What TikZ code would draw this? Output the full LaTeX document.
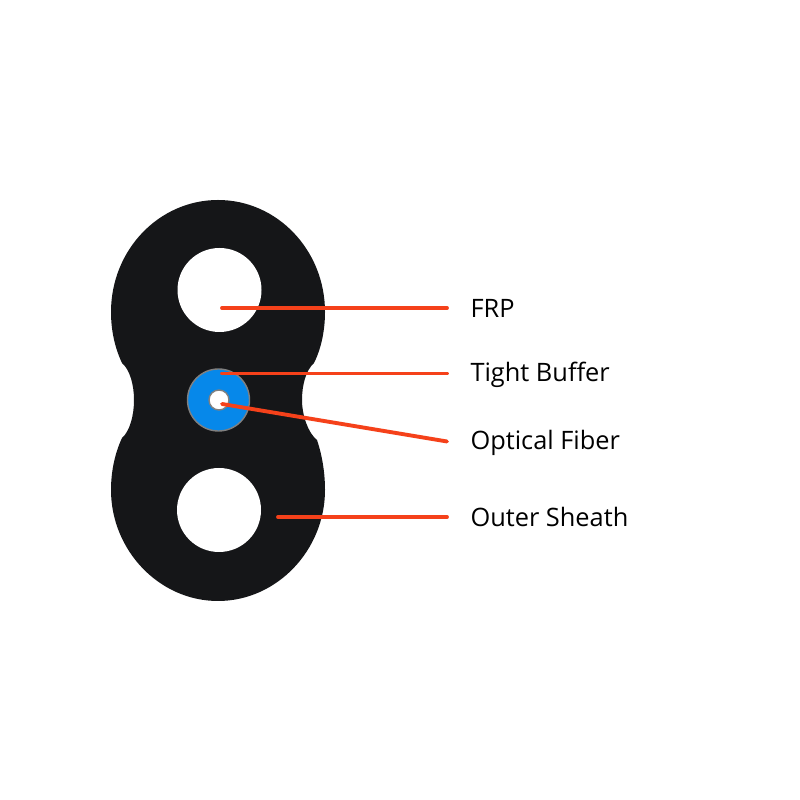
\documentclass[tikz,border=0pt]{standalone}
\usepackage{fontspec}
\setmainfont{Open Sans}
\definecolor{sheathblack}{HTML}{151618}
\definecolor{bufferblue}{HTML}{0688EA}
\definecolor{leaderred}{HTML}{F5411A}
\tikzset{
  hole/.style={circle, fill=white, inner sep=0pt, minimum size=0.84cm},
  leader/.style={draw=leaderred, line width=1.1pt, line cap=round},
  partlabel/.style={anchor=west, inner xsep=0.228cm, inner ysep=0pt, text height=0.20cm, text depth=0pt, font=\fontsize{7.22}{8.5}\selectfont, text=black}
}
\begin{document}
\begin{tikzpicture}
        \useasboundingbox (0,0) rectangle (8,8);
        \fill[white] (0,0) rectangle (8,8);

        % outer sheath
        \fill[sheathblack] (1.11,4.88)
            .. controls (1.11,5.50) and (1.59,6.00) .. (2.18,6.00)
            .. controls (2.77,6.00) and (3.25,5.50) .. (3.25,4.88)
            .. controls (3.25,4.69) and (3.21,4.51) .. (3.14,4.37)
            .. controls (3.06,4.30) and (3.02,4.15) .. (3.02,4.00)
            .. controls (3.02,3.85) and (3.08,3.67) .. (3.17,3.60)
            .. controls (3.22,3.45) and (3.25,3.28) .. (3.25,3.10)
            .. controls (3.25,2.50) and (2.77,1.99) .. (2.18,1.99)
            .. controls (1.59,1.99) and (1.11,2.50) .. (1.11,3.10)
            .. controls (1.11,3.29) and (1.15,3.47) .. (1.22,3.62)
            .. controls (1.30,3.69) and (1.34,3.85) .. (1.34,4.00)
            .. controls (1.34,4.15) and (1.30,4.30) .. (1.22,4.37)
            .. controls (1.15,4.52) and (1.11,4.69) .. (1.11,4.88)
            -- cycle;

        \node[hole] (frptop) at (2.195,5.10) {};
        \node[hole] (frpbottom) at (2.19,2.90) {};
        \node[circle, fill=bufferblue, draw=gray, line width=0.4pt, inner sep=0pt, minimum size=0.62cm] (buffer) at (2.185,4.00) {};
        \node[circle, fill=white, draw=gray, line width=0.4pt, inner sep=0pt, minimum size=0.20cm] (fiber) at (2.19,4.00) {};

        \node[partlabel] (frplabel) at (4.47,4.92) {FRP};
        \node[partlabel] (bufferlabel) at (4.47,4.28) {Tight Buffer};
        \node[partlabel] (fiberlabel) at (4.47,3.60) {Optical Fiber};
        \node[partlabel] (sheathlabel) at (4.47,2.83) {Outer Sheath};

        \coordinate (frpend) at (2.22,4.92);
        \coordinate (bufferend) at (2.22,4.265);
        \coordinate (fiberend) at (2.22,3.96);
        \coordinate (sheathend) at (2.78,2.83);

        \draw[leader] (frpend) -- (frplabel.west);
        \draw[leader] (bufferend) -- ([yshift=-0.015cm]bufferlabel.west);
        \draw[leader] (fiberend) -- ([yshift=-0.015cm]fiberlabel.west);
        \draw[leader] (sheathend) -- (sheathlabel.west);
\end{tikzpicture}
\end{document}
